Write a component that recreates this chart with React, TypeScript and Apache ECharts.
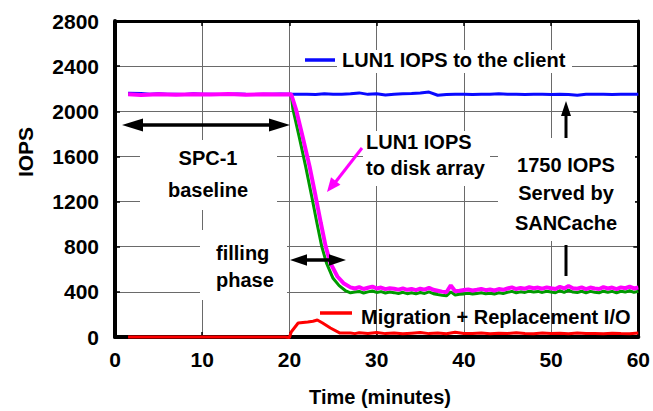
import React, { useEffect, useRef } from "react";
import * as echarts from "echarts";

// ---- data ----
const xTicks = [0, 10, 20, 30, 40, 50, 60];
const yTicks = [0, 400, 800, 1200, 1600, 2000, 2400, 2800];

const clientTime = [1.5, 3, 4, 5, 6, 7, 8, 9, 10, 11, 12, 13, 14, 15, 16, 17, 18, 19, 20, 21, 22, 23, 24, 25, 26, 27, 28, 29, 30, 31, 32, 33, 34, 35, 36, 37, 38, 39, 40, 41, 42, 43, 44, 45, 46, 47, 48, 49, 50, 51, 52, 53, 54, 55, 56, 57, 58, 59, 60];
const clientIops = [2160, 2158, 2150, 2155, 2150, 2152, 2148, 2155, 2150, 2152, 2148, 2150, 2153, 2150, 2148, 2152, 2150, 2153, 2150, 2150, 2152, 2148, 2155, 2150, 2152, 2155, 2163, 2150, 2155, 2145, 2152, 2155, 2158, 2162, 2170, 2142, 2148, 2150, 2152, 2148, 2152, 2150, 2155, 2150, 2152, 2148, 2150, 2152, 2148, 2150, 2148, 2142, 2150, 2152, 2150, 2148, 2152, 2150, 2152];

const diskTime = [1.5, 3, 5, 7, 9, 11, 13, 15, 17, 19, 20.2, 20.75, 21.5, 22.3, 23, 23.6, 24.15, 24.7, 25.5, 26.2, 27, 27.5, 28, 28.5, 29, 29.5, 30, 30.5, 31, 31.5, 32, 32.5, 33, 33.5, 34, 34.5, 35, 35.5, 36, 36.5, 37, 37.5, 38, 38.5, 39, 39.5, 40, 40.5, 41, 41.5, 42, 42.5, 43, 43.5, 44, 44.5, 45, 45.5, 46, 46.5, 47, 47.5, 48, 48.5, 49, 49.5, 50, 50.5, 51, 51.5, 52, 52.5, 53, 53.5, 54, 54.5, 55, 55.5, 56, 56.5, 57, 57.5, 58, 58.5, 59, 59.5, 60];
const diskIops = [2150, 2145, 2152, 2146, 2150, 2148, 2153, 2147, 2150, 2148, 2151, 2018, 1780, 1514, 1247, 1010, 803, 655, 536, 477, 440, 430, 442, 425, 436, 446, 430, 438, 424, 432, 428, 420, 431, 418, 426, 415, 428, 420, 436, 418, 410, 402, 396, 458, 405, 410, 416, 421, 412, 418, 426, 415, 421, 412, 425, 418, 430, 440, 425, 435, 428, 441, 432, 438, 428, 440, 432, 425, 445, 430, 452, 432, 428, 440, 425, 438, 430, 425, 442, 430, 438, 425, 440, 432, 446, 430, 438];

const arrayTime = [1.5, 5, 10, 15, 20.2, 20.4, 21.1, 21.85, 22.55, 23.15, 23.7, 24.25, 25.0, 25.7, 26.4, 27, 27.5, 28, 28.5, 29, 29.5, 30, 30.5, 31, 31.5, 32, 32.5, 33, 33.5, 34, 34.5, 35, 35.5, 36, 36.5, 37, 37.5, 38, 38.5, 39, 39.5, 40, 40.5, 41, 41.5, 42, 42.5, 43, 43.5, 44, 44.5, 45, 45.5, 46, 46.5, 47, 47.5, 48, 48.5, 49, 49.5, 50, 50.5, 51, 51.5, 52, 52.5, 53, 53.5, 54, 54.5, 55, 55.5, 56, 56.5, 57, 57.5, 58, 58.5, 59, 59.5, 60];
const arrayIops = [2148, 2148, 2148, 2148, 2148, 2018, 1780, 1514, 1247, 1010, 803, 655, 520, 455, 412, 392, 398, 404, 390, 400, 408, 395, 402, 390, 398, 393, 386, 396, 384, 392, 382, 394, 386, 400, 384, 376, 370, 365, 400, 372, 378, 382, 388, 380, 386, 392, 382, 388, 380, 392, 386, 396, 404, 392, 400, 395, 406, 398, 404, 395, 405, 398, 392, 410, 396, 415, 398, 394, 405, 392, 404, 396, 392, 406, 396, 404, 392, 405, 398, 410, 396, 404];

const migTime = [1.5, 5, 10, 15, 19.5, 20, 20.2, 21, 22.1, 22.7, 23.2, 23.8, 24.7, 25.8, 27, 27.5, 28, 29, 30, 31, 32, 33, 34, 35, 36, 37, 38, 39, 40, 41, 42, 43, 44, 45, 46, 47, 48, 49, 50, 51, 52, 53, 54, 55, 56, 57, 58, 59, 60];
const migIops = [0, 0, 0, 0, 0, -5, 44, 124, 133, 140, 151, 124, 80, 35, 35, 30, 38, 32, 40, 30, 36, 28, 34, 40, 30, 36, 28, 42, 32, 30, 36, 28, 34, 30, 38, 32, 28, 36, 30, 34, 28, 36, 30, 32, 28, 34, 30, 28, 35];

const FONT = "'Liberation Sans', Arial, Helvetica, sans-serif";

function pairs(xs: number[], ys: number[]) {
  return xs.map((x, i) => [x, ys[i]]);
}

function hArrowHead(tipX: number, y: number, dir: number, len: number, half: number) {
  return {
    type: "polygon",
    z: 30,
    shape: { points: [[tipX, y], [tipX - dir * len, y - half], [tipX - dir * len, y + half]] },
    style: { fill: "#000" },
  };
}

function arrowHead(tip: number[], from: number[], len: number, half: number, color: string) {
  const dx = tip[0] - from[0];
  const dy = tip[1] - from[1];
  const d = Math.sqrt(dx * dx + dy * dy);
  const ux = dx / d, uy = dy / d;
  const bx = tip[0] - ux * len, by = tip[1] - uy * len;
  return {
    type: "polygon",
    z: 30,
    shape: { points: [tip, [bx - uy * half, by + ux * half], [bx + uy * half, by - ux * half]] },
    style: { fill: color },
  };
}

function seg(x1: number, y1: number, x2: number, y2: number, color: string, w: number) {
  return { type: "line", z: 30, shape: { x1, y1, x2, y2 }, style: { stroke: color, lineWidth: w } };
}

function txt(text: string, x: number, y: number, align: string, extra: any = {}) {
  return {
    type: "text",
    z: 30,
    x,
    y,
    style: {
      text,
      fontSize: 20,
      fontWeight: "bold",
      fontFamily: FONT,
      fill: "#000",
      align,
      verticalAlign: "middle",
      ...extra,
    },
  };
}

function box(x: number, y: number, w: number, h: number) {
  return { type: "rect", z: 1, shape: { x, y, width: w, height: h }, style: { fill: "#fff" } };
}

export default function App() {
  const ref = useRef<HTMLDivElement>(null);
  useEffect(() => {
    document.body.style.margin = "0";
    const chart = echarts.init(ref.current!, null, { renderer: "svg" });
    const axisTick = { show: true, inside: true, length: 5, lineStyle: { color: "#000", width: 1.5 } };
    const labelStyle = { fontSize: 21, fontWeight: "bold", fontFamily: FONT, color: "#000" };
    chart.setOption({
      animation: false,
      backgroundColor: "#fff",
      grid: { left: 115, right: 8, top: 21, bottom: 74 },
      xAxis: [
        {
          type: "value",
          min: 0,
          max: 60,
          interval: 10,
          position: "bottom",
          axisLine: { show: true, lineStyle: { color: "#000", width: 4 } },
          axisTick,
          axisLabel: { ...labelStyle, margin: 12, formatter: (v: number) => (xTicks.includes(v) ? String(v) : "") },
          splitLine: { show: true, lineStyle: { color: "#6a6a6a", width: 1 } },
        },
        {
          type: "value",
          min: 0,
          max: 60,
          interval: 10,
          position: "top",
          axisLine: { show: true, onZero: false, lineStyle: { color: "#000", width: 3 } },
          axisTick,
          axisLabel: { show: false },
          splitLine: { show: false },
        },
      ],
      yAxis: [
        {
          type: "value",
          min: 0,
          max: 2800,
          interval: 400,
          position: "left",
          axisLine: { show: true, lineStyle: { color: "#000", width: 4 } },
          axisTick,
          axisLabel: { ...labelStyle, margin: 16, formatter: (v: number) => (yTicks.includes(v) ? String(v) : "") },
          splitLine: { show: true, lineStyle: { color: "#6a6a6a", width: 1 } },
        },
        {
          type: "value",
          min: 0,
          max: 2800,
          interval: 400,
          position: "right",
          axisLine: { show: true, onZero: false, lineStyle: { color: "#000", width: 3 } },
          axisTick,
          axisLabel: { show: false },
          splitLine: { show: false },
        },
      ],
      series: [
        {
          name: "LUN1 IOPS to the client",
          type: "line",
          data: pairs(clientTime, clientIops),
          showSymbol: false,
          clip: false,
          z: 2,
          lineStyle: { color: "#0a0aff", width: 3 },
        },
        {
          name: "Disk array IOPS",
          type: "line",
          data: pairs(arrayTime, arrayIops),
          showSymbol: false,
          clip: false,
          z: 3,
          lineStyle: { color: "#009a00", width: 3 },
        },
        {
          name: "LUN1 IOPS to disk array",
          type: "line",
          data: pairs(diskTime, diskIops),
          showSymbol: false,
          clip: false,
          z: 4,
          lineStyle: { color: "#ff00ff", width: 4 },
        },
        {
          name: "Migration + Replacement I/O",
          type: "line",
          data: pairs(migTime, migIops),
          showSymbol: false,
          clip: false,
          z: 5,
          lineStyle: { color: "#ff0000", width: 3 },
        },
      ],
      graphic: [
        // white text boxes hiding the grid
        box(337, 50, 235, 23),
        box(140, 140, 137, 70),
        box(363, 131, 127, 55),
        box(498, 138, 137, 103),
        box(200, 230, 87, 70),
        // legend-like labels
        seg(305, 60, 335, 60, "#0a0aff", 3.5),
        txt("LUN1 IOPS to the client", 342, 60, "left"),
        seg(320, 313, 352, 313, "#ff0000", 3.5),
        txt("Migration + Replacement I/O", 361, 317, "left"),
        // SPC-1 baseline
        seg(140, 125, 272, 125, "#000", 3.5),
        hArrowHead(122, 125, -1, 21, 6.5),
        hArrowHead(290, 125, 1, 21, 6.5),
        txt("SPC-1", 208, 158, "center"),
        txt("baseline", 208, 190, "center"),
        // filling phase
        seg(305, 260, 330, 260, "#000", 3.5),
        hArrowHead(290, 260, -1, 17, 5.7),
        hArrowHead(346, 260, 1, 17, 5.7),
        txt("filling", 216, 253, "left"),
        txt("phase", 216, 280, "left"),
        // LUN1 IOPS to disk array
        seg(362, 148, 334, 184, "#ff00ff", 3),
        arrowHead([327, 192], [362, 148], 14, 6, "#ff00ff"),
        txt("LUN1 IOPS", 366, 142, "left"),
        txt("to disk array", 366, 168, "left"),
        // 1750 IOPS served by SANCache
        seg(566, 138, 566, 112, "#000", 3),
        arrowHead([566, 101], [566, 138], 15, 5, "#000"),
        seg(566, 245, 566, 276, "#000", 3),
        txt("1750 IOPS", 566, 165, "center"),
        txt("Served by", 566, 193, "center"),
        txt("SANCache", 566, 223, "center"),
        // axis titles
        txt("IOPS", 25, 152, "center", { fontSize: 21 }),
        txt("Time (minutes)", 380, 397, "center", { fontSize: 20 }),
      ],
    });
    // rotate the y axis title
    const opt: any = chart.getOption();
    const g = opt.graphic[0].elements;
    const idx = g.length - 2;
    const graphics = g.map((e: any, i: number) => (i === idx ? { id: e.id, rotation: Math.PI / 2 } : { id: e.id }));
    chart.setOption({ graphic: graphics });
    return () => chart.dispose();
  }, []);
  return <div ref={ref} style={{ width: 653, height: 411 }} />;
}
